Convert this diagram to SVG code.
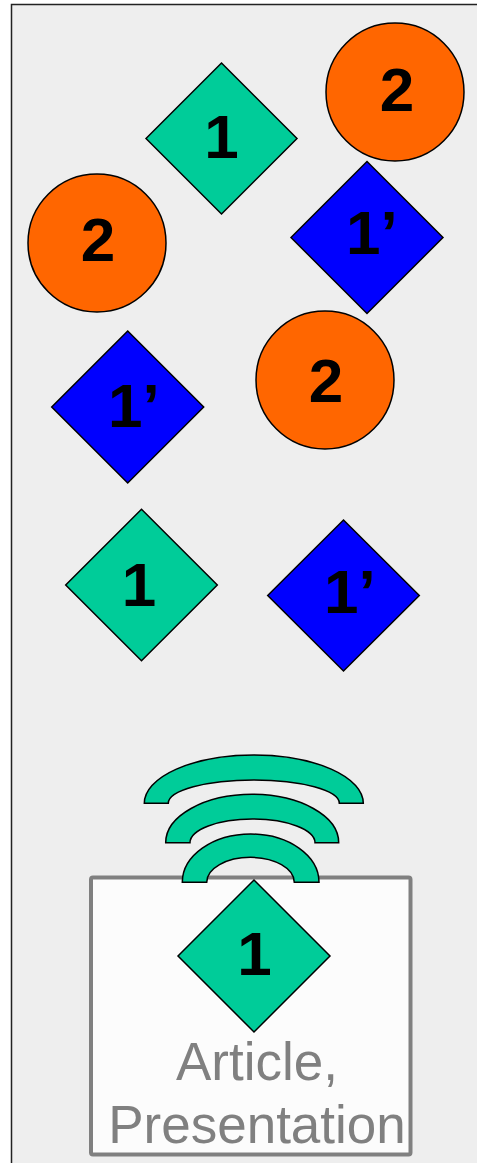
<svg xmlns="http://www.w3.org/2000/svg" width="477" height="1163" viewBox="0 0 477 1163">
<style>
.g{fill:#00cc99;stroke:#000;stroke-width:1.5}
.b{fill:#0000ff;stroke:#000;stroke-width:1.5}
.o{fill:#ff6600;stroke:#000;stroke-width:1.5}
.n{font-family:"Liberation Sans",Arial,sans-serif;font-weight:bold;font-size:62px;fill:#000}
.m{text-anchor:middle}
.lbl{font-family:"Liberation Sans",Arial,sans-serif;font-size:53px;fill:#808080;text-anchor:middle}
</style>
<rect x="11.5" y="4.5" width="480" height="1170" fill="#eeeeee" stroke="#222" stroke-width="1.5"/>
<g id="d1a"><polygon class="g" points="221.5,63 297,138.5 221.5,214 146,138.5"/><text class="n m" x="221.5" y="157.5">1</text></g>
<g id="c2a"><circle class="o" cx="395" cy="92" r="69"/><text class="n m" x="397" y="111">2</text></g>
<g id="c2b"><circle class="o" cx="97" cy="243" r="69"/><text class="n m" x="98" y="261">2</text></g>
<g id="d1pa"><polygon class="b" points="367,161.5 443,237.5 367,313.5 291,237.5"/><text class="n" x="346" y="254">1’</text></g>
<g id="d1pb"><polygon class="b" points="127.7,331 203.7,407 127.7,483 51.7,407"/><text class="n" x="108" y="426.5">1’</text></g>
<g id="c2c"><circle class="o" cx="325" cy="380" r="69"/><text class="n m" x="326" y="401.5">2</text></g>
<g id="d1b"><polygon class="g" points="141.5,509.3 217.3,585 141.5,660.7 65.7,585"/><text class="n m" x="139" y="606">1</text></g>
<g id="d1pc"><polygon class="b" points="343.5,520 419.3,595.5 343.5,671 267.7,595.5"/><text class="n" x="324" y="613">1’</text></g>
<g id="doc">
<rect x="91" y="877.5" width="319.5" height="277" rx="2" fill="#fcfcfc" stroke="#808080" stroke-width="4"/>
<path class="g" d="M144.3,803.3 A109.5,48.3 0 0 1 363.3,803.3 L339.3,803.3 A85.5,23.3 0 0 0 168.3,803.3 Z"/>
<path class="g" d="M165.7,842.7 A86.5,48.4 0 0 1 338.7,842.7 L315,842.7 A62.5,23.7 0 0 0 190,842.7 Z"/>
<path class="g" d="M182.3,882.3 A68.35,48.3 0 0 1 319,882.3 L294.3,882.3 A43.8,25 0 0 0 206.7,882.3 Z"/>
<polygon class="g" points="254,880 330,956 254,1032 178,956"/>
<text class="n m" x="254.5" y="975">1</text>
<text class="lbl" x="257" y="1080">Article,</text>
<text class="lbl" x="257" y="1143">Presentation</text>
</g>
<g id="connectors"></g>
</svg>
